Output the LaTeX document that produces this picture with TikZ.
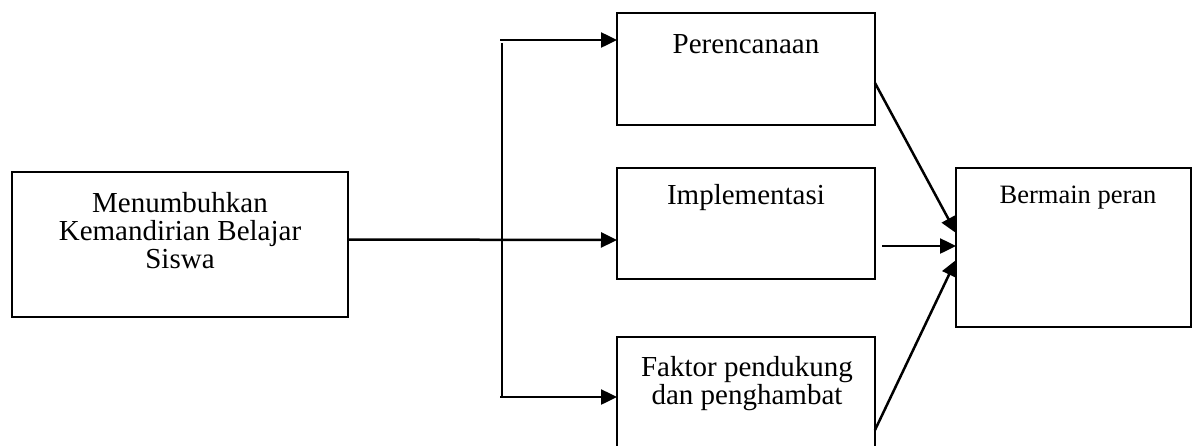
\documentclass[tikz,border=0pt]{standalone}
\usepackage{fontspec}
\setmainfont{Liberation Serif}
\usetikzlibrary{positioning,arrows.meta}
\tikzset{
  % --- boxes (text sits near the top edge) ---
  box/.style={draw=black, line width=1.8pt, rectangle, inner sep=0pt,
              outer sep=0pt, anchor=north west},
  boxtext/.style={font=\fontsize{29}{28}\selectfont, align=center, inner sep=0pt},
  boxtextsmall/.style={boxtext, font=\fontsize{26.5}{26}\selectfont},
  % --- connectors ---
  flow/.style={line width=2.5pt, -{Triangle[length=16pt,width=15pt]}},
  trunk/.style={line width=2pt},
}
\begin{document}
\begin{tikzpicture}[x=1pt,y=-1pt]
  \useasboundingbox (0,0) rectangle (1195,445);
  \clip (0,0) rectangle (1195,445);

  % boxes
  \node[box, minimum width=336pt, minimum height=145pt] (intro) at (12,172) {};
  \node[box, minimum width=258pt, minimum height=112pt] (plan)  at (617,13)  {};
  \node[box, minimum width=258pt, minimum height=111pt] (impl)  at (617,168) {};
  \node[box, minimum width=258pt, minimum height=112pt] (factor) at (617,337) {};
  \node[box, minimum width=235pt, minimum height=159pt] (role)  at (956,168) {};

  % texts
  \node[boxtext] (introtext)  at (180,231) {Menumbuhkan\\Kemandirian Belajar\\Siswa};
  \node[boxtext] (plantext)   at (746,44)  {Perencanaan};
  \node[boxtext] (impltext)   at (746,198) {Implementasi};
  \node[boxtext] (factortext) at (747,384) {Faktor pendukung\\dan penghambat};
  \node[boxtextsmall] (roletext) at (1078,198) {Bermain peran};

  % branching from the left box
  \coordinate (branchtop) at (500,40);
  \coordinate (branchbot) at (500,397);
  \draw[trunk] (502,43) -- (502,397);
  \draw[flow] ([yshift=5pt]intro.east) -- ([yshift=-16.5pt]impl.west);
  \draw[flow] (branchtop) -- ([yshift=29pt]plan.west);
  \draw[flow] (branchbot) -- ([yshift=-4pt]factor.west);

  % converging on the right box
  \draw[flow] ([yshift=-14pt]plan.east) -- ([yshift=14.5pt]role.west);
  \draw[flow] ([xshift=7pt,yshift=-22.5pt]impl.east) -- ([yshift=1.5pt]role.west);
  \draw[flow] ([yshift=-37pt]factor.east) -- ([yshift=-12.5pt]role.west);
\end{tikzpicture}
\end{document}
